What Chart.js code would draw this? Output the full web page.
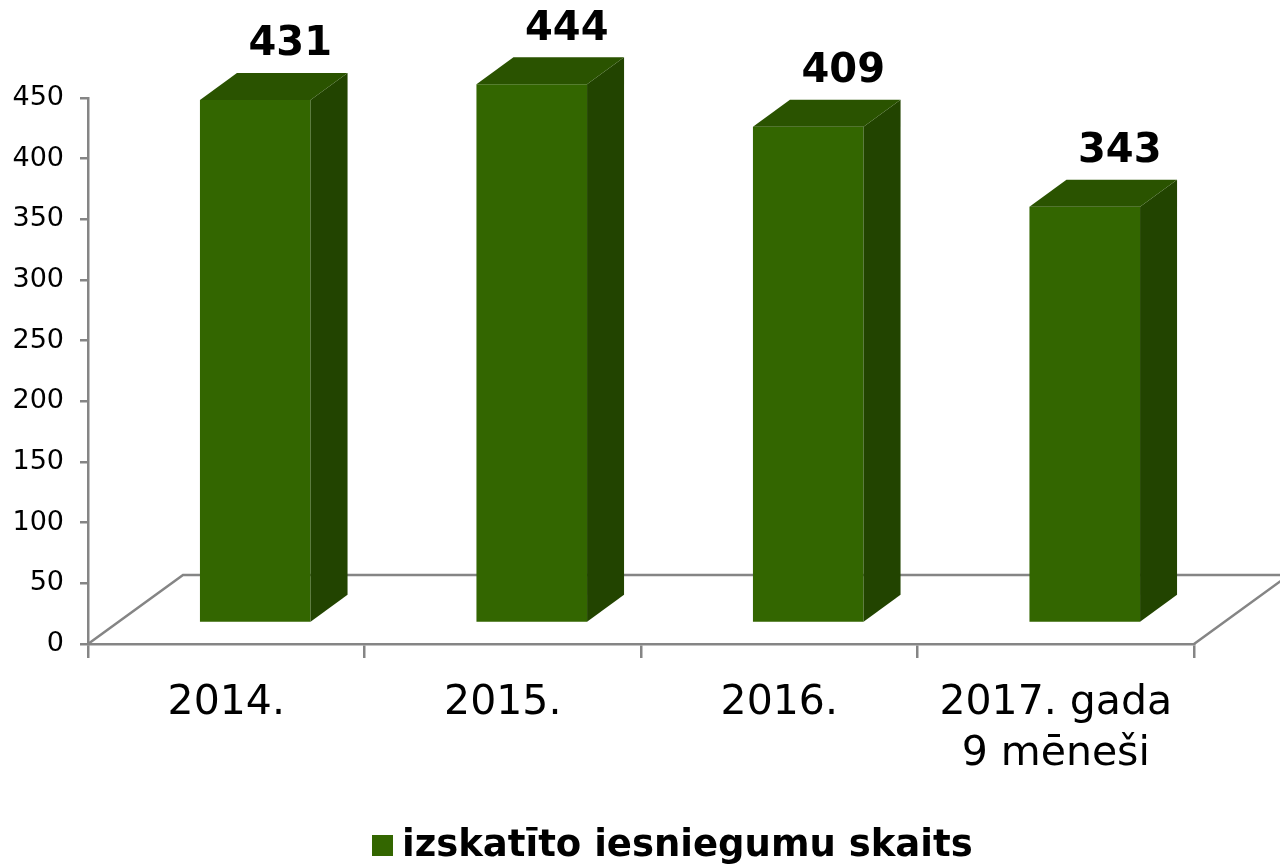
<!DOCTYPE html>
<html>
<head>
<meta charset="utf-8">
<script src="https://cdn.jsdelivr.net/npm/chart.js@4/dist/chart.umd.min.js"></script>
<style>
  html, body { margin: 0; padding: 0; background: #fff; }
  #wrap { width: 1280px; height: 867px; }
</style>
</head>
<body>
<div id="wrap"><canvas id="chart" width="1280" height="867"></canvas></div>
<script>
const categories = [['2014.'], ['2015.'], ['2016.'], ['2017. gada', '9 mēneši']];
const values = [431, 444, 409, 343];
const seriesLabel = 'izskatīto iesniegumu skaits';
const yMin = 0, yMax = 450, yStep = 50;

// 3D look: floor depth, bar offset into the floor, bar thickness
const FLOOR_DX = 95, FLOOR_DY = 69;
const SHIFT_X = 29, SHIFT_Y = 21;
const SIDE_DX = 37, SIDE_DY = 27;
const AXIS = '#858585';
const FRONT = '#336600';

Chart.defaults.font.family = '"DejaVu Sans", Verdana, sans-serif';

const bars3d = {
    id: 'bars3d',
    beforeDatasetsDraw(chart) {
        const { ctx, chartArea: { left, right, bottom } } = chart;
        ctx.save();
        ctx.strokeStyle = AXIS;
        ctx.lineWidth = 2.5;
        ctx.beginPath();
        ctx.moveTo(left, bottom);
        ctx.lineTo(left + FLOOR_DX, bottom - FLOOR_DY);
        ctx.lineTo(chart.width, bottom - FLOOR_DY);
        ctx.moveTo(right, bottom);
        ctx.lineTo(right + FLOOR_DX, bottom - FLOOR_DY);
        ctx.stroke();
        ctx.restore();
        // push the front faces back onto the floor
        ctx.save();
        ctx.translate(SHIFT_X, -SHIFT_Y);
    },
    afterDatasetsDraw(chart) {
        const ctx = chart.ctx;
        const meta = chart.getDatasetMeta(0);
        meta.data.forEach(bar => {
            const { x, y, base, width } = bar.getProps(['x', 'y', 'base', 'width'], true);
            const l = x - width / 2, r = x + width / 2;
            // side
            ctx.fillStyle = '#224400';
            ctx.beginPath();
            ctx.moveTo(r, y);
            ctx.lineTo(r + SIDE_DX, y - SIDE_DY);
            ctx.lineTo(r + SIDE_DX, base - SIDE_DY);
            ctx.lineTo(r, base);
            ctx.closePath();
            ctx.fill();
            // top
            ctx.fillStyle = '#2a5300';
            ctx.beginPath();
            ctx.moveTo(l, y);
            ctx.lineTo(l + SIDE_DX, y - SIDE_DY);
            ctx.lineTo(r + SIDE_DX, y - SIDE_DY);
            ctx.lineTo(r, y);
            ctx.closePath();
            ctx.fill();
        });
        ctx.restore();

        // value labels
        ctx.save();
        ctx.font = 'bold 40px "DejaVu Sans", Verdana, sans-serif';
        ctx.fillStyle = '#000';
        ctx.textAlign = 'center';
        ctx.textBaseline = 'middle';
        meta.data.forEach((bar, i) => {
            ctx.fillText(String(values[i]), bar.x + SHIFT_X + 35, bar.y - 76);
        });
        ctx.restore();
    },
    afterDraw(chart) {
        // legend, drawn by hand so it sits where the original does
        const ctx = chart.ctx;
        ctx.save();
        ctx.fillStyle = FRONT;
        ctx.fillRect(372, 835, 21, 21);
        ctx.font = 'bold 37px "DejaVu Sans", Verdana, sans-serif';
        ctx.fillStyle = '#000';
        ctx.textAlign = 'left';
        ctx.textBaseline = 'middle';
        ctx.fillText(seriesLabel, 402, 846);
        ctx.restore();
    }
};

new Chart(document.getElementById('chart'), {
    type: 'bar',
    data: {
        labels: categories,
        datasets: [{
            label: seriesLabel,
            data: values,
            backgroundColor: FRONT,
            borderWidth: 0,
            categoryPercentage: 1,
            barPercentage: 0.4
        }]
    },
    options: {
        responsive: false,
        animation: false,
        layout: { padding: { top: 98, right: 86, left: 0, bottom: 73 } },
        scales: {
            y: {
                min: yMin,
                max: yMax,
                ticks: { stepSize: yStep, color: '#000', font: { size: 27 }, padding: 16 },
                grid: { drawOnChartArea: false, drawTicks: true, tickLength: 8, color: AXIS, lineWidth: 2.5 },
                border: { color: AXIS, width: 2.5 },
                afterFit: s => { s.width = 88; }
            },
            x: {
                ticks: { color: '#000', font: { size: 41, lineHeight: 1.24 }, padding: 20, maxRotation: 0, autoSkip: false },
                grid: { drawOnChartArea: false, tickLength: 14, color: AXIS, lineWidth: 2.5, offset: true },
                border: { color: AXIS, width: 2.5 },
                afterFit: s => { s.height = 150; }
            }
        },
        plugins: {
            legend: { display: false },
            tooltip: { enabled: false }
        }
    },
    plugins: [bars3d]
});
</script>
</body>
</html>
